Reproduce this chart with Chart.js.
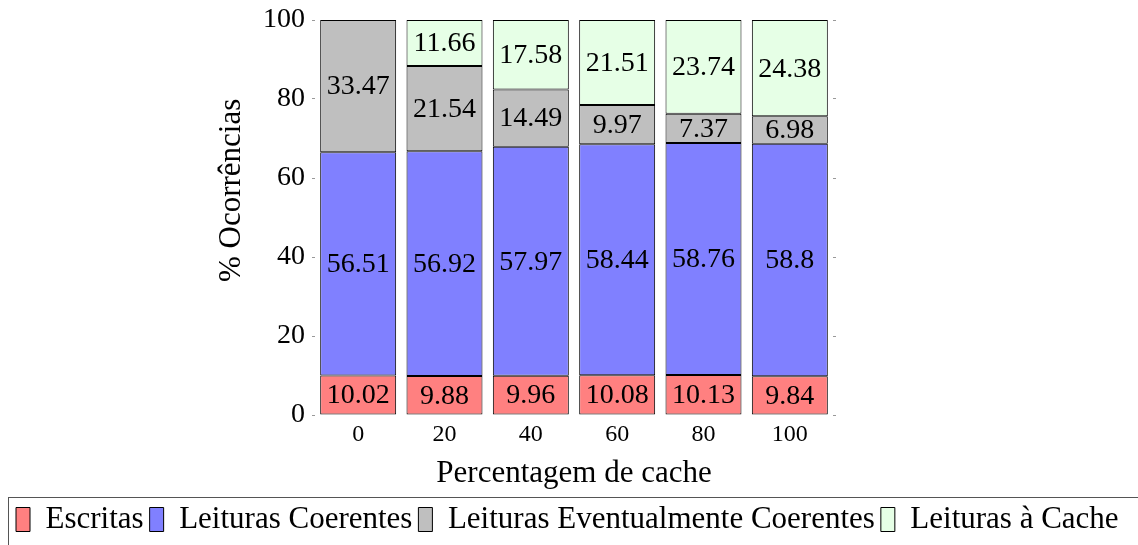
<!DOCTYPE html>
<html>
<head>
<meta charset="utf-8">
<script src="https://cdn.jsdelivr.net/npm/chart.js@4"></script>
<style>
  html, body { margin: 0; padding: 0; background: #fff; }
  #wrap { width: 1138px; height: 545px; }
</style>
</head>
<body>
<div id="wrap"><canvas id="myChart" width="1138" height="545"></canvas></div>
<script>
/* chart data */
const categories = ['0', '20', '40', '60', '80', '100'];
const escritas = [10.02, 9.88, 9.96, 10.08, 10.13, 9.84];
const leiturasCoerentes = [56.51, 56.92, 57.97, 58.44, 58.76, 58.8];
const leiturasEventuais = [33.47, 21.54, 14.49, 9.97, 7.37, 6.98];
const leiturasCache = [null, 11.66, 17.58, 21.51, 23.74, 24.38];
const yTicks = [0, 20, 40, 60, 80, 100];

const serif = "'Liberation Serif', 'DejaVu Serif', serif";

/* write the value in the middle of each segment */
const barLabels = {
  id: 'barLabels',
  afterDatasetsDraw(chart) {
    const ctx = chart.ctx;
    ctx.save();
    ctx.font = '28px ' + serif;
    ctx.fillStyle = '#000';
    ctx.textAlign = 'center';
    ctx.textBaseline = 'middle';
    chart.data.datasets.forEach((ds, i) => {
      chart.getDatasetMeta(i).data.forEach((bar, j) => {
        const v = ds.data[j];
        if (v == null) return;
        ctx.fillText(String(v), bar.x, (bar.y + bar.base) / 2 + 1);
      });
    });
    ctx.restore();
  }
};

/* frame around the legend, legend nudged right a little */
const legendFrame = {
  id: 'legendFrame',
  afterLayout(chart) {
    chart.legend.left = 10;
  },
  afterDraw(chart) {
    const ctx = chart.ctx;
    ctx.save();
    ctx.strokeStyle = '#555';
    ctx.lineWidth = 1;
    ctx.strokeRect(8.5, 497.5, 1200, 100);
    ctx.restore();
  }
};

// no extra room above/below the value axes for the end labels
function noOverhang(scale) {
  scale.paddingTop = 0;
  scale.paddingBottom = 0;
}

function initChart() {
  const ctx = document.getElementById('myChart');
  new Chart(ctx, {
    type: 'bar',
    data: {
      labels: categories,
      datasets: [
        { label: 'Escritas', data: escritas, backgroundColor: '#ff8080' },
        { label: 'Leituras Coerentes', data: leiturasCoerentes, backgroundColor: '#8080ff' },
        { label: 'Leituras Eventualmente Coerentes', data: leiturasEventuais, backgroundColor: '#bfbfbf' },
        { label: 'Leituras à Cache', data: leiturasCache, backgroundColor: '#e6ffe6' }
      ].map(d => Object.assign(d, {
        borderColor: '#000',
        borderWidth: 1,
        borderSkipped: false,
        categoryPercentage: 1,
        barPercentage: 0.88
      }))
    },
    options: {
      responsive: false,
      animation: false,
      layout: { padding: { left: 0, right: 0, top: 20, bottom: 0 } },
      plugins: {
        tooltip: { enabled: false },
        legend: {
          position: 'bottom',
          align: 'start',
          labels: {
            color: '#000',
            font: { family: serif, size: 31 },
            boxWidth: 14,
            boxHeight: 24,
            padding: 6
          }
        }
      },
      scales: {
        x: {
          stacked: true,
          grid: { display: false, drawTicks: false },
          border: { display: false },
          ticks: { color: '#000', font: { family: serif, size: 24 }, padding: 5 },
          title: {
            display: true,
            text: 'Percentagem de cache',
            color: '#000',
            font: { family: serif, size: 31 },
            padding: { top: 0, bottom: 6 }
          },
          afterFit(scale) { scale.height = 83; }
        },
        y: {
          stacked: true,
          min: 0,
          max: 100,
          afterBuildTicks(scale) { scale.ticks = yTicks.map(v => ({ value: v })); },
          grid: { drawOnChartArea: false, tickLength: 3, color: '#999' },
          border: { display: false },
          ticks: { color: '#000', font: { family: serif, size: 28 }, padding: 7 },
          title: {
            display: true,
            text: '       % Ocorrências',
            color: '#000',
            font: { family: serif, size: 31 },
            padding: { top: 213, bottom: 0 }
          },
          afterFit(scale) { scale.width = 315; noOverhang(scale); }
        },
        y2: {
          position: 'right',
          min: 0,
          max: 100,
          afterBuildTicks(scale) { scale.ticks = yTicks.map(v => ({ value: v })); },
          grid: { drawOnChartArea: false, tickLength: 3, color: '#999' },
          border: { display: false },
          ticks: { display: false },
          afterFit(scale) { scale.width = 305; noOverhang(scale); }
        }
      }
    },
    plugins: [barLabels, legendFrame]
  });
}

initChart();
</script>
</body>
</html>
